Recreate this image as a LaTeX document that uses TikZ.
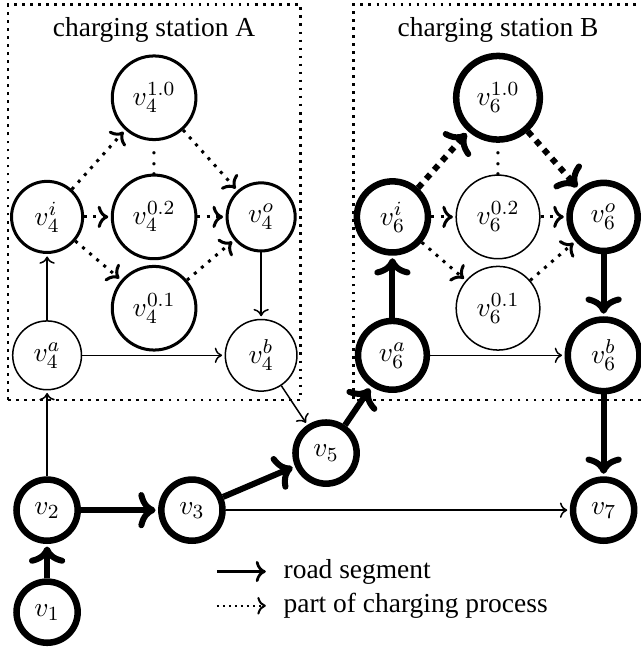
\documentclass[tikz,border=0pt,11pt]{standalone}
\usepackage[no-math]{fontspec}
\setmainfont{Liberation Serif}
\usetikzlibrary{positioning, calc}
\usetikzlibrary{arrows.meta}

\begin{document}
\begin{tikzpicture}[shorten >=1pt,draw=black!100]

	\def \arow{3.6}
	\def \irow{5.54}
	\tikzstyle{v-node}=[circle,draw,line width=0.6pt,inner sep=4.5pt]
	\tikzstyle{c-node}=[v-node,line width=1.2pt]
	\tikzstyle{r-node}=[v-node,line width=2.6pt]
	\tikzstyle{road}=[->,line width=0.6pt]
	\tikzstyle{route}=[->,line width=2.4pt]
	\tikzstyle{charge}=[->,line width=1.2pt,dash pattern=on 1.2pt off 2.5pt]
	\tikzstyle{charge route}=[->,line width=2.4pt,dash pattern=on 2.4pt off 2.4pt]
	\tikzstyle{station}=[line width=1.1pt,dash pattern=on 1.1pt off 2.1pt]

	\useasboundingbox (-0.66,-0.53) rectangle (8.32,8.58);

	% stations
	\draw[station] (-0.547,2.973) rectangle (3.548,8.513);
	\draw[station] (8.32,2.973) -| (4.29,8.513) -- (8.32,8.513);
	\node (stA) at (1.5,8.16) {charging station A};
	\node (stB) at (6.32,8.16) {charging station B};

	% road network
	\node[r-node] 	(v1)	at (0,0)		{$v_1$};
	\node[r-node] 	(v2)	at (0,1.43)		{$v_2$};
	\node[r-node] 	(v3)	at (2.03,1.43)		{$v_3$};
	\node[r-node] 	(v5)	at (3.91,2.23)		{$v_5$};
	\node[r-node] 	(v7)	at (7.8,1.43)		{$v_7$};

	% station A
	\node[v-node] 	(v4a)	at (0,\arow)		{$v_4^a$};
	\node[v-node] 	(v4b)	at (3.0,\arow)		{$v_4^b$};
	\node[c-node] 	(v4i)	at (0,\irow)		{$v_4^i$};
	\node[c-node] 	(v4o)	at (3.0,\irow)		{$v_4^o$};
	\node[c-node] 	(v4m)	at (1.5,\irow)		{$v_4^{0.2}$};
	\node[c-node] 	(v4h)	at (1.5,7.21)		{$v_4^{1.0}$};
	\node[c-node] 	(v4l)	at (1.5,4.26)		{$v_4^{0.1}$};
	\node 	(dotsA)	at (1.5,6.39)		{$\vdots$};

	% station B
	\node[r-node] 	(v6a)	at (4.84,\arow)		{$v_6^a$};
	\node[r-node] 	(v6b)	at (7.8,\arow)		{$v_6^b$};
	\node[r-node] 	(v6i)	at (4.84,\irow)		{$v_6^i$};
	\node[r-node] 	(v6o)	at (7.8,\irow)		{$v_6^o$};
	\node[v-node] 	(v6m)	at (6.32,\irow)		{$v_6^{0.2}$};
	\node[r-node] 	(v6h)	at (6.32,7.21)		{$v_6^{1.0}$};
	\node[v-node] 	(v6l)	at (6.32,4.26)		{$v_6^{0.1}$};
	\node 	(dotsB)	at (6.32,6.39)		{$\vdots$};

	% edges
	\draw[route] (v1) -- (v2);
	\draw[route] (v2) -- (v3);
	\draw[route] (v3) -- (v5);
	\draw[route] (v5) -- (v6a);
	\draw[road] (v3) -- (v7);
	\draw[road] (v2) -- (v4a);
	\draw[road] (v4b) -- (v5);
	\draw[road] (v4a) -- (v4i);
	\draw[road] (v4a) -- (v4b);
	\draw[road] (v4o) -- (v4b);
	\draw[charge] (v4i) -- (v4h);
	\draw[charge] (v4i) -- (v4m);
	\draw[charge] (v4i) -- (v4l);
	\draw[charge] (v4h) -- (v4o);
	\draw[charge] (v4m) -- (v4o);
	\draw[charge] (v4l) -- (v4o);
	\draw[route] (v6a) -- (v6i);
	\draw[road] (v6a) -- (v6b);
	\draw[route] (v6o) -- (v6b);
	\draw[route] (v6b) -- (v7);
	\draw[charge route] (v6i) -- (v6h);
	\draw[charge route] (v6h) -- (v6o);
	\draw[charge] (v6i) -- (v6m);
	\draw[charge] (v6i) -- (v6l);
	\draw[charge] (v6m) -- (v6o);
	\draw[charge] (v6l) -- (v6o);

	% legend
	\coordinate (legA) at (2.38,0.57);
	\coordinate (legB) at (3.1,0.57);
	\coordinate (legC) at (2.38,0.09);
	\coordinate (legD) at (3.1,0.09);
	\draw[->,line width=1.1pt] (legA) -- (legB);
	\draw[->,line width=0.8pt,dash pattern=on 0.8pt off 1.6pt] (legC) -- (legD);
	\node[right=0.08cm of legB] 	(roadlbl)	{road segment};
	\node[right=0.08cm of legD] 	(chargelbl)	{part of charging process};
\end{tikzpicture}
\end{document}
